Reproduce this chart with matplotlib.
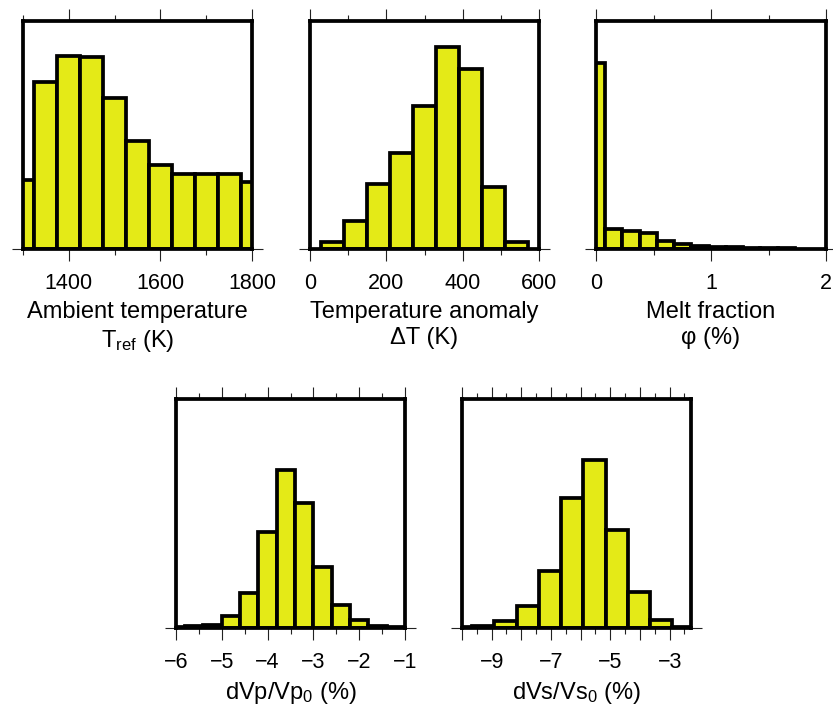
"""Histograms of sampled mantle parameters: temperature, anomaly, melt and velocity drops."""
import matplotlib
matplotlib.use("Agg")
import matplotlib.pyplot as plt
import numpy as np
from matplotlib.ticker import FuncFormatter, MultipleLocator

plt.rcParams["font.family"] = ["Liberation Sans", "DejaVu Sans"]
plt.rcParams["mathtext.fontset"] = "custom"
plt.rcParams["mathtext.rm"] = "Liberation Sans"
plt.rcParams["mathtext.it"] = "Liberation Sans:italic"

# bin edges and percentages
TREF_EDGES = [1275, 1325, 1375, 1425, 1475, 1525, 1575, 1625, 1675, 1725, 1775, 1825]
TREF_PCT = [5.5, 13.3, 15.4, 15.3, 12.0, 8.6, 6.7, 6.0, 6.0, 6.0, 5.3]

DT_EDGES = [30, 90, 150, 210, 270, 330, 390, 450, 510, 570]
DT_PCT = [0.9, 3.5, 8.2, 12.2, 18.1, 25.6, 22.8, 7.8, 0.9]

MELT_EDGES = [-0.07, 0.08, 0.23, 0.38, 0.53, 0.68, 0.83, 0.98, 1.13, 1.28, 1.43, 1.58, 1.73]
MELT_PCT = [70.2, 7.5, 6.8, 6.0, 3.0, 1.9, 1.3, 0.9, 0.7, 0.5, 0.35, 0.25]

VP_EDGES = [-6.2, -5.8, -5.4, -5.0, -4.6, -4.2, -3.8, -3.4, -3.0, -2.6, -2.2, -1.8, -1.4, -1.0]
VP_PCT = [0.13, 0.32, 0.63, 2.2, 6.7, 18.3, 30.1, 23.7, 11.5, 4.3, 1.6, 0.38, 0.13]

VS_EDGES = [-10.41, -9.66, -8.91, -8.16, -7.41, -6.66, -5.91, -5.16, -4.41, -3.66, -2.91, -2.16]
VS_PCT = [0.13, 0.32, 1.3, 4.1, 10.8, 24.5, 31.7, 18.5, 6.8, 1.6, 0.19]

YELLOW = "#e4ea17"
W, H = 833, 708


def add_panel(fig, box, edges, pct, xlim, ylim_top, major, minor, xlabel, odd_only=False):
    x0, y0, x1, y1 = box
    ax = fig.add_axes([x0 / W, 1 - y1 / H, (x1 - x0) / W, (y1 - y0) / H])
    edges = np.asarray(edges, dtype=float)
    ax.bar(edges[:-1], pct, width=np.diff(edges), align="edge",
           color=YELLOW, edgecolor="black", linewidth=2.7, zorder=2)
    ax.set_xlim(*xlim)
    ax.set_ylim(0, ylim_top)
    for sp in ax.spines.values():
        sp.set_linewidth(2.7)
        sp.set_zorder(5)

    ax.xaxis.set_major_locator(MultipleLocator(major))
    ax.xaxis.set_minor_locator(MultipleLocator(minor))
    if odd_only:
        ax.xaxis.set_major_formatter(FuncFormatter(
            lambda v, _: f"{int(round(v))}".replace("-", "\u2212") if int(round(v)) % 2 else ""))
    ax.tick_params(axis="x", which="both", direction="out", top=True, bottom=True,
                   width=0.8, color="#222222", labelsize=15.5, pad=9)
    ax.tick_params(axis="x", which="major", length=8.5)
    ax.tick_params(axis="x", which="minor", length=4.5)
    ax.set_yticks([0])
    ax.tick_params(axis="y", direction="out", left=True, right=True, length=8,
                   width=0.8, color="#222222", labelleft=False)
    ax.set_xlabel(xlabel, fontsize=17, labelpad=5, linespacing=1.25)
    return ax


def main() -> None:
    fig = plt.figure(figsize=(W / 100, H / 100), dpi=100)
    add_panel(fig, (23, 21, 252, 249), TREF_EDGES, TREF_PCT, (1300, 1800), 18.15,
              200, 100, "Ambient temperature\nT$_{\\mathrm{ref}}$ (K)")
    add_panel(fig, (310, 21, 539, 249), DT_EDGES, DT_PCT, (0, 600), 28.9,
              200, 100, "Temperature anomaly\n\u0394T (K)")
    add_panel(fig, (596, 21, 826, 249), MELT_EDGES, MELT_PCT, (0, 2), 86,
              1, 0.5, "Melt fraction\n\u03c6 (%)")
    add_panel(fig, (176, 399, 405, 628), VP_EDGES, VP_PCT, (-6, -1), 43.5,
              1, 0.5, "dVp/Vp$_0$ (%)")
    add_panel(fig, (462, 399, 691, 628), VS_EDGES, VS_PCT, (-10, -2.28), 43.3,
              1, 0.5, "dVs/Vs$_0$ (%)", odd_only=True)
    fig.savefig("out.png", dpi=100)
    plt.close(fig)


if __name__ == "__main__":
    main()
